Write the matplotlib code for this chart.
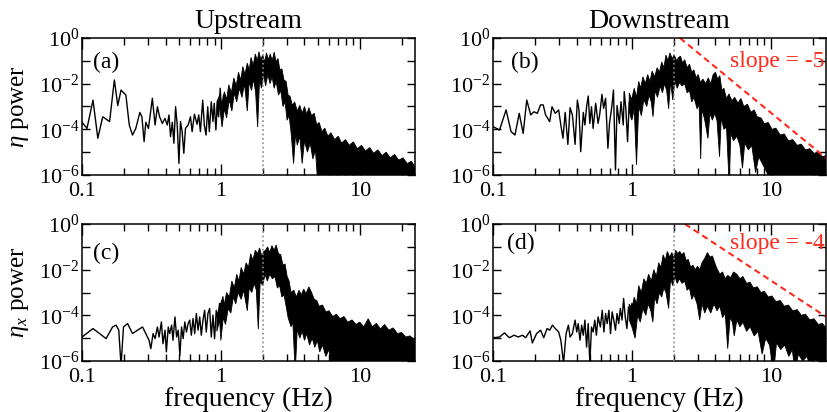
import matplotlib
matplotlib.use("Agg")
import matplotlib.pyplot as plt
import numpy as np
from matplotlib.ticker import FixedLocator, NullFormatter

plt.rcParams['font.family'] = 'serif'
plt.rcParams['font.serif'] = ['Liberation Serif', 'DejaVu Serif']
plt.rcParams['mathtext.fontset'] = 'custom'
plt.rcParams['mathtext.rm'] = 'Liberation Serif'
plt.rcParams['mathtext.it'] = 'Liberation Serif:italic'

# ---- data (power given as log10) ----
# (a) upstream eta: sparse low-frequency trace
a_f = [0.1, 0.1086, 0.120, 0.130, 0.141, 0.158, 0.171, 0.181, 0.191, 0.207, 0.219, 0.231,
       0.244, 0.261, 0.270, 0.280, 0.288, 0.301, 0.321, 0.336, 0.349, 0.362, 0.379, 0.396,
       0.411, 0.423, 0.434, 0.447, 0.459, 0.472, 0.485, 0.499, 0.512, 0.526, 0.541, 0.556,
       0.581, 0.604, 0.621, 0.645, 0.674, 0.693, 0.712, 0.740, 0.760, 0.782, 0.804, 0.826,
       0.853, 0.877, 0.896, 0.921, 0.942, 0.963, 0.989, 1.016, 1.045, 1.074, 1.104]
a_p = [-3.69, -3.96, -2.72, -4.39, -3.45, -3.66, -1.84, -2.96, -2.28, -2.50, -3.81, -4.25,
       -3.96, -3.26, -3.45, -4.54, -3.69, -3.96, -2.64, -3.81, -3.01, -3.45, -3.74, -3.52,
       -3.81, -3.37, -4.32, -3.69, -4.61, -3.01, -3.81, -5.49, -3.66, -4.10, -5.05, -3.96,
       -3.81, -3.45, -4.10, -3.34, -3.78, -3.37, -4.10, -2.72, -3.81, -4.25, -3.01, -4.10,
       -2.79, -3.66, -2.86, -4.03, -2.93, -3.45, -2.20, -3.37, -2.50, -2.79, -2.72]
# dense part: top and bottom edge of the black band
a_up_f = [0.936, 0.98, 1.02, 1.06, 1.1, 1.14, 1.19, 1.24, 1.29, 1.34, 1.39, 1.44, 1.49, 1.55,
          1.6, 1.65, 1.71, 1.77, 1.83, 1.88, 1.94, 2.0, 2.07, 2.13, 2.2, 2.27, 2.34, 2.42, 2.5,
          2.58, 2.66, 2.75, 2.85, 2.95, 3.05, 3.15, 3.27, 3.4, 3.55, 3.7, 3.85, 4.0, 4.15, 4.3,
          4.5, 4.7, 4.9, 5.1, 5.35, 5.6, 5.9, 6.2, 6.6, 7.0, 7.4, 7.9, 8.4, 9.0, 9.6, 10.3,
          11.0, 11.8, 12.6, 13.5, 14.5, 15.5, 16.6, 17.8, 19.1, 20.5, 22.0, 23.5, 25.1]
a_up = [-2.79, -2.5, -2.9, -2.35, -2.7, -2.05, -2.4, -1.75, -2.1, -1.5, -1.85, -1.25, -1.6, -1.1,
        -1.4, -0.85, -1.2, -0.7, -1.0, -0.6, -0.95, -0.75, -1.05, -0.65, -0.95, -0.7, -1.0,
        -0.62, -1.05, -0.9, -1.4, -1.35, -1.85, -1.9, -2.5, -2.55, -2.95, -2.8, -3.2, -2.95,
        -3.3, -3.0, -3.35, -3.05, -3.4, -3.3, -3.8, -3.7, -4.1, -3.95, -4.3, -4.15, -4.45, -4.3,
        -4.6, -4.45, -4.7, -4.55, -4.85, -4.7, -4.95, -4.8, -5.05, -4.9, -5.15, -5.0, -5.25,
        -5.1, -5.35, -5.25, -5.5, -5.4, -5.65]
a_lo_f = [0.936, 0.98, 1.02, 1.06, 1.1, 1.15, 1.2, 1.25, 1.3, 1.36, 1.42, 1.48, 1.55, 1.6,
          1.66, 1.72, 1.78, 1.84, 1.9, 1.96, 2.03, 2.1, 2.18, 2.26, 2.34, 2.42, 2.5, 2.6, 2.7,
          2.8, 2.9, 3.0, 3.1, 3.2, 3.34, 3.45, 3.55, 3.7, 3.85, 4.0, 4.2, 4.4, 4.6, 4.8, 5.0,
          25.1]
a_lo = [-3.37, -3.0, -3.9, -3.1, -3.5, -2.7, -3.2, -2.4, -2.8, -2.2, -2.6, -2.0, -3.2, -1.9,
        -2.3, -1.8, -2.4, -3.9, -1.8, -2.2, -1.6, -2.1, -1.6, -2.0, -1.7, -2.2, -1.9, -2.5,
        -2.3, -3.0, -2.8, -3.6, -3.4, -4.1, -5.5, -4.2, -4.7, -4.3, -5.5, -4.5, -5.0, -4.6,
        -5.3, -4.9, -6.5, -6.5]

# (b) downstream eta
b_f = [0.1, 0.1114, 0.1242, 0.1349, 0.1439, 0.1545, 0.1649, 0.175, 0.187, 0.197, 0.2085, 0.220,
       0.230, 0.239, 0.256, 0.266, 0.281, 0.297, 0.308, 0.319, 0.331, 0.346, 0.359, 0.373, 0.390,
       0.405, 0.416, 0.428, 0.447, 0.459, 0.472, 0.485, 0.498, 0.512, 0.526, 0.549, 0.571, 0.586,
       0.609, 0.626, 0.647, 0.672, 0.690, 0.717, 0.737, 0.762, 0.782, 0.813, 0.835, 0.867, 0.881,
       0.906, 0.931, 0.957, 0.994, 1.027]
b_p = [-3.88, -4.03, -3.15, -4.10, -4.25, -3.30, -4.18, -2.72, -3.37, -3.23, -3.30, -2.93, -2.93,
       -3.37, -3.66, -3.01, -3.30, -3.15, -3.81, -4.39, -3.26, -4.66, -3.05, -3.37, -4.66, -2.72,
       -3.15, -4.98, -3.26, -3.81, -3.01, -2.54, -3.74, -3.01, -3.96, -2.86, -3.74, -3.37, -2.47,
       -3.08, -2.64, -4.83, -3.74, -3.01, -2.28, -5.78, -2.96, -3.74, -2.79, -3.81, -2.35, -3.15,
       -4.54, -2.79, -3.52, -2.42]
b_up_f = [0.957, 1.0, 1.04, 1.08, 1.12, 1.16, 1.2, 1.25, 1.3, 1.35, 1.4, 1.46, 1.52, 1.58, 1.64,
          1.7, 1.76, 1.82, 1.88, 1.95, 2.02, 2.1, 2.17, 2.24, 2.32, 2.4, 2.5, 2.6, 2.7, 2.8, 2.9,
          3.0, 3.12, 3.25, 3.4, 3.55, 3.7, 3.85, 4.0, 4.15, 4.3, 4.45, 4.6, 4.8, 5.0, 5.25, 5.5,
          5.8, 6.1, 6.4, 6.8, 7.2, 7.6, 8.0, 8.5, 9.0, 9.6, 10.2, 10.9, 11.7, 12.5, 13.4, 14.4,
          15.5, 16.6, 17.8, 19.1, 20.5, 22.0, 23.5, 25.0]
b_up = [-2.4, -2.7, -2.2, -2.6, -1.9, -2.2, -1.7, -2.0, -1.6, -1.9, -1.45, -1.7, -1.3, -1.5,
        -1.05, -1.3, -0.75, -1.0, -0.65, -0.9, -0.75, -1.0, -0.85, -0.8, -1.1, -0.95, -1.3,
        -1.15, -1.5, -1.4, -1.75, -1.6, -1.95, -1.8, -2.0, -1.75, -2.0, -1.6, -1.5, -1.8, -1.65,
        -2.3, -2.2, -2.65, -2.45, -2.75, -2.6, -2.85, -2.65, -3.0, -2.9, -3.25, -3.15, -3.45,
        -3.5, -3.75, -3.7, -4.0, -3.95, -4.25, -4.2, -4.5, -4.45, -4.7, -4.65, -4.9, -4.85,
        -5.05, -5.0, -5.2, -5.15]
b_lo_f = [0.957, 1.0, 1.04, 1.08, 1.12, 1.17, 1.22, 1.28, 1.33, 1.38, 1.42, 1.47, 1.53, 1.6,
          1.66, 1.72, 1.78, 1.84, 1.9, 1.97, 2.04, 2.12, 2.2, 2.3, 2.4, 2.5, 2.6, 2.7, 2.8, 2.95,
          3.05, 3.13, 3.2, 3.35, 3.53, 3.65, 3.8, 3.95, 4.1, 4.28, 4.4, 4.6, 4.8, 5.03, 5.15,
          5.4, 5.7, 6.0, 6.26, 6.5, 6.9, 7.3, 7.78, 8.2, 8.7, 9.4, 10.0, 25.0]
b_lo = [-3.2, -3.6, -3.1, -5.56, -3.0, -3.4, -2.7, -3.0, -2.5, -2.8, -3.45, -2.3, -2.6, -2.1,
        -2.4, -2.0, -2.3, -3.1, -1.9, -2.72, -1.9, -2.2, -1.95, -2.1, -2.0, -2.4, -2.3, -2.8,
        -2.6, -3.1, -2.9, -5.3, -3.1, -3.6, -4.4, -3.3, -3.6, -3.3, -3.6, -5.2, -3.5, -4.0,
        -3.9, -6.5, -4.2, -4.5, -4.3, -4.7, -5.7, -4.6, -4.9, -4.7, -5.9, -5.2, -5.5, -5.9,
        -6.5, -6.5]

# (c) upstream eta_x
c_f = [0.1, 0.120, 0.134, 0.149, 0.166, 0.176, 0.184, 0.191, 0.199, 0.213, 0.231, 0.251, 0.273,
       0.288, 0.304, 0.313, 0.325, 0.336, 0.349, 0.359, 0.373, 0.383, 0.396, 0.405, 0.418, 0.428,
       0.442, 0.452, 0.467, 0.480, 0.493, 0.507, 0.521, 0.535, 0.550, 0.565, 0.581, 0.597, 0.613,
       0.630, 0.648, 0.666, 0.685, 0.704, 0.723, 0.743, 0.764, 0.785, 0.807, 0.830, 0.853, 0.877,
       0.901, 0.926, 0.952, 0.978, 1.006, 1.033, 1.062, 1.091]
c_p = [-4.95, -4.58, -4.80, -5.02, -4.51, -4.43, -4.65, -6.2, -4.51, -4.36, -4.80, -4.65, -4.51,
       -4.80, -5.09, -5.46, -4.80, -5.02, -4.51, -4.95, -4.29, -5.24, -4.65, -5.60, -4.51, -4.80,
       -4.43, -5.09, -4.07, -4.95, -4.65, -5.75, -4.51, -5.02, -4.29, -4.73, -4.36, -4.21, -4.87,
       -4.14, -4.80, -3.92, -4.65, -4.07, -4.87, -4.21, -3.78, -4.73, -3.92, -3.70, -4.95, -3.99,
       -5.02, -3.78, -4.21, -3.48, -3.99, -3.19, -3.78, -3.34]
c_up_f = [0.936, 0.98, 1.02, 1.06, 1.1, 1.15, 1.2, 1.25, 1.3, 1.35, 1.4, 1.46, 1.52, 1.58, 1.64,
          1.7, 1.77, 1.84, 1.9, 1.97, 2.04, 2.1, 2.17, 2.25, 2.33, 2.42, 2.5, 2.6, 2.7, 2.8, 2.9,
          3.0, 3.1, 3.2, 3.35, 3.5, 3.65, 3.8, 3.95, 4.1, 4.3, 4.5, 4.7, 4.9, 5.1, 5.4, 5.7, 6.0,
          6.4, 6.8, 7.2, 7.7, 8.2, 8.8, 9.4, 10.0, 10.7, 11.5, 12.3, 13.2, 14.1, 15.1, 16.2, 17.4,
          18.7, 20.0, 21.5, 23.0, 25.1]
c_up = [-4.0, -3.6, -3.3, -3.5, -3.0, -3.2, -2.5, -2.8, -2.2, -2.5, -1.9, -2.2, -1.7, -1.9, -1.3,
        -1.6, -1.15, -1.3, -1.05, -1.4, -1.2, -1.15, -1.0, -1.25, -0.95, -1.15, -0.92, -1.3,
        -1.35, -1.8, -1.75, -2.3, -2.5, -3.0, -2.9, -3.2, -2.9, -3.1, -2.85, -3.05, -2.75, -3.0,
        -3.3, -3.35, -3.6, -3.55, -3.85, -3.8, -4.05, -3.95, -4.15, -4.05, -4.3, -4.2, -4.4,
        -4.3, -4.5, -4.15, -4.5, -4.35, -4.6, -4.4, -4.65, -4.55, -4.8, -4.75, -4.95, -4.9, -5.1]
c_lo_f = [0.936, 0.98, 1.0, 1.04, 1.08, 1.13, 1.18, 1.23, 1.28, 1.33, 1.4, 1.46, 1.55, 1.6, 1.67,
          1.74, 1.8, 1.86, 1.92, 2.0, 2.08, 2.16, 2.25, 2.35, 2.45, 2.55, 2.65, 2.75, 2.85, 2.95,
          3.05, 3.2, 3.3, 3.43, 3.55, 3.7, 3.85, 4.0, 4.15, 4.35, 4.55, 4.75, 4.95, 5.15, 5.4,
          5.7, 6.0, 6.4, 25.1]
c_lo = [-4.7, -4.2, -5.1, -4.1, -4.4, -3.7, -3.9, -3.2, -3.5, -3.0, -3.3, -2.9, -3.8, -2.8,
        -3.0, -2.6, -2.9, -4.6, -2.5, -2.7, -2.2, -2.5, -2.2, -2.4, -2.3, -2.8, -2.7, -3.2, -3.1,
        -3.6, -4.1, -4.5, -4.3, -6.5, -4.6, -5.0, -4.7, -5.1, -4.8, -5.3, -5.0, -5.4, -5.1,
        -5.6, -5.3, -5.8, -5.5, -6.5, -6.5]

# (d) downstream eta_x
d_f = [0.1, 0.1114, 0.121, 0.131, 0.142, 0.152, 0.163, 0.172, 0.185, 0.192, 0.206, 0.220, 0.232,
       0.245, 0.256, 0.268, 0.281, 0.297, 0.308, 0.322, 0.336, 0.349, 0.359, 0.373, 0.390, 0.401,
       0.411, 0.423, 0.435, 0.447, 0.459, 0.472, 0.485, 0.498, 0.512, 0.526, 0.541, 0.555, 0.571,
       0.593, 0.612, 0.629, 0.647, 0.664, 0.683, 0.702, 0.721, 0.741, 0.762, 0.782, 0.804, 0.826,
       0.849, 0.872, 0.896, 0.921, 0.946, 0.973, 1.0, 1.027]
d_p = [-4.98, -4.95, -4.77, -4.98, -4.87, -4.95, -4.87, -4.98, -4.68, -5.21, -4.80, -4.65, -4.98,
       -4.58, -4.65, -4.43, -4.58, -4.73, -5.09, -6.1, -4.80, -4.43, -4.95, -4.80, -4.21, -4.73,
       -4.36, -5.09, -4.43, -4.87, -4.21, -5.39, -4.36, -6.1, -4.51, -4.73, -4.21, -4.87, -4.07,
       -4.51, -3.78, -4.73, -3.92, -4.36, -3.78, -4.80, -3.85, -4.21, -4.65, -3.92, -4.36, -3.70,
       -4.21, -3.26, -4.07, -4.58, -3.63, -4.07, -3.48, -3.70]
d_up_f = [0.957, 1.0, 1.04, 1.08, 1.12, 1.17, 1.22, 1.27, 1.32, 1.38, 1.44, 1.5, 1.56, 1.62, 1.68,
          1.74, 1.8, 1.87, 1.94, 2.0, 2.07, 2.14, 2.21, 2.29, 2.37, 2.46, 2.55, 2.65, 2.75, 2.86,
          2.97, 3.08, 3.2, 3.35, 3.5, 3.65, 3.8, 3.95, 4.1, 4.3, 4.5, 4.7, 4.9, 5.15, 5.4, 5.7,
          6.0, 6.3, 6.7, 7.1, 7.5, 8.0, 8.5, 9.0, 9.6, 10.2, 10.9, 11.7, 12.5, 13.4, 14.4, 15.5,
          16.6, 17.8, 19.1, 20.5, 22.0, 23.5, 25.0]
d_up = [-3.5, -3.7, -3.2, -3.5, -2.7, -3.0, -2.4, -2.6, -2.2, -2.5, -2.0, -2.3, -1.7, -1.9,
        -1.35, -1.6, -1.2, -1.45, -1.25, -1.5, -1.15, -1.3, -1.2, -1.35, -1.25, -1.6, -1.55,
        -1.9, -1.8, -2.0, -1.85, -2.0, -1.7, -1.5, -1.25, -1.45, -1.4, -1.7, -1.95, -2.2, -2.1,
        -2.4, -2.25, -2.35, -2.1, -2.2, -2.4, -2.3, -2.6, -2.55, -2.8, -2.75, -3.0, -2.95, -3.2,
        -3.15, -3.4, -3.35, -3.6, -3.55, -3.8, -3.75, -4.0, -3.95, -4.2, -4.15, -4.4, -4.35,
        -4.55]
d_lo_f = [0.957, 1.0, 1.055, 1.1, 1.15, 1.2, 1.26, 1.31, 1.37, 1.416, 1.46, 1.52, 1.58, 1.64,
          1.7, 1.76, 1.84, 1.9, 1.97, 2.04, 2.12, 2.2, 2.3, 2.4, 2.5, 2.6, 2.7, 2.8, 2.95, 3.08,
          3.2, 3.35, 3.5, 3.7, 3.9, 4.1, 4.3, 4.5, 4.7, 4.9, 5.1, 5.3, 5.46, 5.7, 6.0, 6.3, 6.7,
          7.1, 7.6, 8.1, 8.67, 9.2, 9.8, 10.5, 11.0, 11.8, 12.6, 13.5, 14.3, 14.96, 15.8, 17.0,
          18.2, 19.5, 21.0, 22.5, 25.0]
d_lo = [-4.2, -4.5, -5.0, -4.0, -4.3, -3.7, -4.0, -3.5, -3.8, -4.3, -3.2, -3.5, -3.0, -3.2,
        -2.8, -3.0, -3.7, -2.4, -2.7, -2.3, -2.6, -2.4, -2.6, -2.5, -2.9, -2.8, -3.3, -3.1, -3.5,
        -4.2, -3.5, -3.9, -3.6, -3.9, -3.5, -3.8, -3.6, -4.1, -3.9, -5.46, -4.1, -4.3, -4.9,
        -4.2, -4.5, -4.3, -4.7, -4.5, -4.9, -4.7, -5.7, -5.0, -5.3, -6.5, -5.2, -5.5, -5.3,
        -5.8, -5.5, -6.5, -5.7, -6.0, -5.8, -6.3, -5.9, -6.5, -6.5]

peak_freq = 2.0
slopes = {'b': (-5, 2.22), 'd': (-4, 2.41)}   # (slope, frequency where the line meets 10^0)

RED = '#ff2a1a'
W, H = 827, 412


def px_rect(left, top, right, bottom):
    return [left / W, 1 - bottom / H, (right - left) / W, (bottom - top) / H]


def panel(ax, f, p, up_f, up, lo_f, lo, tag):
    ax.set_xscale('log')
    ax.set_yscale('log')
    band_f = np.concatenate([up_f, lo_f[::-1]])
    band_p = 10.0 ** np.concatenate([up, lo[::-1]])
    ax.fill(band_f, band_p, facecolor='k', edgecolor='k', lw=0.6)
    ax.plot(f, 10.0 ** np.array(p), color='k', lw=1.0)
    ax.axvline(peak_freq, color='#8a8a8a', ls=':', lw=1.2, zorder=5)
    ax.set_xlim(0.1, 25)
    ax.set_ylim(1e-6, 1)
    ax.xaxis.set_major_locator(FixedLocator([0.1, 1, 10]))
    ax.set_xticklabels(['0.1', '1', '10'])
    ax.xaxis.set_minor_locator(FixedLocator(
        [m * d for d in (0.1, 1, 10) for m in range(2, 10)]))
    ax.xaxis.set_minor_formatter(NullFormatter())
    ax.yaxis.set_major_locator(FixedLocator([1e-6, 1e-4, 1e-2, 1]))
    ax.set_yticklabels(['10$^{-6}$', '10$^{-4}$', '10$^{-2}$', '10$^{0}$'])
    ax.yaxis.set_minor_locator(FixedLocator([1e-5, 1e-3, 1e-1]))
    ax.yaxis.set_minor_formatter(NullFormatter())
    ax.tick_params(which='both', direction='in', top=True, right=True, width=1.0,
                   labelsize=16)
    ax.tick_params(axis='x', which='major', length=8, pad=5)
    ax.tick_params(axis='x', which='minor', length=5)
    ax.tick_params(axis='y', which='both', length=6, pad=2)
    for s in ax.spines.values():
        s.set_linewidth(1.1)
    if tag in slopes:
        k, f0 = slopes[tag]
        xs = np.array([f0, 25.0])
        ax.plot(xs, (xs / f0) ** k, color=RED, ls=(0, (3, 2)), lw=1.5)


fig = plt.figure(figsize=(W / 100, H / 100), dpi=100)
ax_a = fig.add_axes(px_rect(82, 38, 415, 175))
ax_b = fig.add_axes(px_rect(493, 38, 826, 175))
ax_c = fig.add_axes(px_rect(82, 224, 415, 361))
ax_d = fig.add_axes(px_rect(493, 224, 826, 361))

panel(ax_a, a_f, a_p, a_up_f, a_up, a_lo_f, a_lo, 'a')
panel(ax_b, b_f, b_p, b_up_f, b_up, b_lo_f, b_lo, 'b')
panel(ax_c, c_f, c_p, c_up_f, c_up, c_lo_f, c_lo, 'c')
panel(ax_d, d_f, d_p, d_up_f, d_up, d_lo_f, d_lo, 'd')

ax_a.text(0.034, 0.825, '(a)', transform=ax_a.transAxes, fontsize=17, va='center')
ax_b.text(0.053, 0.825, '(b)', transform=ax_b.transAxes, fontsize=17, va='center')
ax_c.text(0.034, 0.788, '(c)', transform=ax_c.transAxes, fontsize=17, va='center')
ax_d.text(0.041, 0.859, '(d)', transform=ax_d.transAxes, fontsize=17, va='center')

ax_b.text(0.995, 0.825, 'slope = -5', transform=ax_b.transAxes, fontsize=17,
          color=RED, ha='right', va='center')
ax_d.text(0.995, 0.859, 'slope = -4', transform=ax_d.transAxes, fontsize=17,
          color=RED, ha='right', va='center')

fig.text(248.5 / W, 1 - 28 / H, 'Upstream', fontsize=20, ha='center', va='baseline')
fig.text(659.5 / W, 1 - 28 / H, 'Downstream', fontsize=20, ha='center', va='baseline')
fig.text(248.5 / W, 1 - 406 / H, 'frequency (Hz)', fontsize=20, ha='center', va='baseline')
fig.text(659.5 / W, 1 - 406 / H, 'frequency (Hz)', fontsize=20, ha='center', va='baseline')
fig.text(20 / W, 1 - 106.5 / H, r'$\eta$ power', fontsize=18, rotation=90,
         ha='center', va='center')
fig.text(20 / W, 1 - 292.5 / H, r'$\eta_x$ power', fontsize=18, rotation=90,
         ha='center', va='center')

fig.savefig('out.png', dpi=100)
